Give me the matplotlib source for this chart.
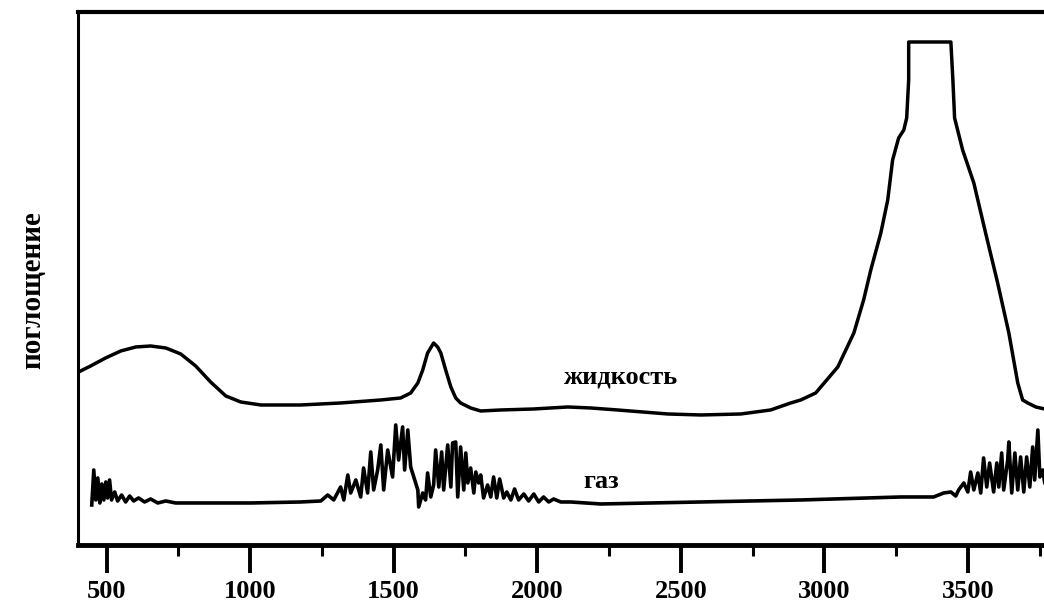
import matplotlib.pyplot as plt
from matplotlib.ticker import MultipleLocator

#Liquid spectrum (wavenumber, absorbance in arbitrary units)
liq_w = [402, 444, 496, 549, 601, 653, 706, 758, 810, 862, 915, 967, 1037, 1176,
         1315, 1455, 1524, 1559, 1584, 1601, 1618, 1639, 1653, 1664, 1681, 1699,
         1716, 1733, 1768, 1803, 1873, 1988, 2106, 2186, 2280, 2455, 2570, 2709,
         2813, 2883, 2918, 2970, 3047, 3103, 3137, 3162, 3197, 3221, 3238, 3259,
         3277, 3287, 3294, 3294, 3441, 3448, 3454, 3482, 3521, 3562, 3604, 3643,
         3674, 3691, 3709, 3737, 3768]
liq_a = [173, 179, 187, 194, 198, 199, 197, 191, 179, 163, 149, 143, 140, 140,
         142, 145, 147, 152, 162, 175, 192, 202, 198, 192, 175, 158,
         147, 142, 137, 134, 135, 136, 138, 137, 135, 131, 130, 131,
         135, 142, 145, 152, 178, 212, 245, 275, 312, 345, 385, 407,
         415, 427, 465, 503, 503, 465, 427, 395, 362, 312, 262, 212,
         162, 145, 142, 138, 136]

#Gas spectrum
gas_w = [448, 455, 462, 469, 476, 483, 490, 497, 503, 510, 517, 528, 538, 552,
         566, 580, 594, 611, 632, 653, 678, 706, 740, 827, 1002, 1176, 1246,
         1270, 1291, 1315, 1326, 1340, 1350, 1368, 1385, 1395, 1409, 1420, 1430,
         1444, 1455, 1465, 1479, 1496, 1507, 1517, 1531, 1538, 1549, 1559, 1570,
         1584, 1587, 1601, 1611, 1618, 1629, 1639, 1646, 1657, 1667, 1674, 1688,
         1699, 1705, 1716, 1723, 1733, 1744, 1751, 1758, 1768, 1779, 1786, 1796,
         1803, 1813, 1827, 1838, 1848, 1859, 1869, 1883, 1894, 1908, 1921, 1935,
         1953, 1970, 1988, 2005, 2022, 2040, 2057, 2082, 2117, 2221, 2570, 2918,
         3266, 3381, 3416, 3441, 3458, 3468, 3486, 3500, 3510, 3521, 3535, 3545,
         3555, 3566, 3576, 3590, 3601, 3608, 3618, 3625, 3639, 3643, 3653, 3664,
         3674, 3684, 3695, 3705, 3716, 3726, 3733, 3744, 3751, 3761, 3768, 3782]
gas_a = [40, 75, 45, 67, 42, 61, 45, 63, 47, 65, 45, 53, 44, 50,
         43, 49, 44, 47, 43, 46, 42, 44, 42, 42, 42, 43, 44,
         50, 45, 58, 45, 70, 52, 65, 48, 77, 52, 93, 55,
         75, 100, 55, 95, 68, 120, 85, 118, 75, 115, 78, 68,
         55, 38, 52, 45, 72, 48, 60, 95, 58, 93, 55, 100,
         58, 102, 103, 48, 98, 55, 92, 62, 77, 52, 73, 62,
         70, 47, 60, 48, 68, 47, 66, 47, 53, 45, 56, 45,
         51, 44, 51, 43, 48, 43, 46, 43, 43, 41, 43, 45,
         48, 48, 52, 53, 49, 55, 62, 53, 73, 55, 72, 52,
         87, 58, 82, 53, 82, 58, 92, 55, 85, 103, 52, 92,
         55, 88, 53, 88, 58, 98, 65, 115, 68, 75, 62, 55]

fig = plt.figure(figsize=(10.44, 6.06), dpi=100)
ax = fig.add_axes([0.0747, 0.1007, 0.9348, 0.8795])

ax.plot(liq_w, liq_a, 'k', linewidth=2.5, solid_joinstyle='round')
ax.plot(gas_w, gas_a, 'k', linewidth=2.6, solid_joinstyle='round')

ax.set_xlim(400, 3800)
ax.set_ylim(0, 533)

#Labels on the curves
font = dict(family='Liberation Serif', weight='bold')
ax.text(2291, 168, 'жидкость', fontsize=19, ha='center', va='center', **font)
ax.text(2221, 63, 'газ', fontsize=19, ha='center', va='center', **font)
ax.set_ylabel('поглощение', fontsize=21, **font)
ax.yaxis.set_label_coords(-0.033, 0.478)

#Axes apperence
ax.set_yticks([])
ax.xaxis.set_major_locator(MultipleLocator(500))
ax.xaxis.set_minor_locator(MultipleLocator(250))
ax.tick_params(axis='x', which='major', direction='out', length=20, width=2.8, pad=5)
ax.tick_params(axis='x', which='minor', direction='out', length=8, width=2.2)
for lbl in ax.get_xticklabels():
    lbl.set_fontfamily('Liberation Serif')
    lbl.set_fontweight('bold')
    lbl.set_fontsize(19)
ax.spines['top'].set_linewidth(3.0)
ax.spines['left'].set_linewidth(2.2)
ax.spines['bottom'].set_linewidth(3.5)
ax.spines['right'].set_linewidth(3.0)

fig.savefig('out.png', dpi=100)
